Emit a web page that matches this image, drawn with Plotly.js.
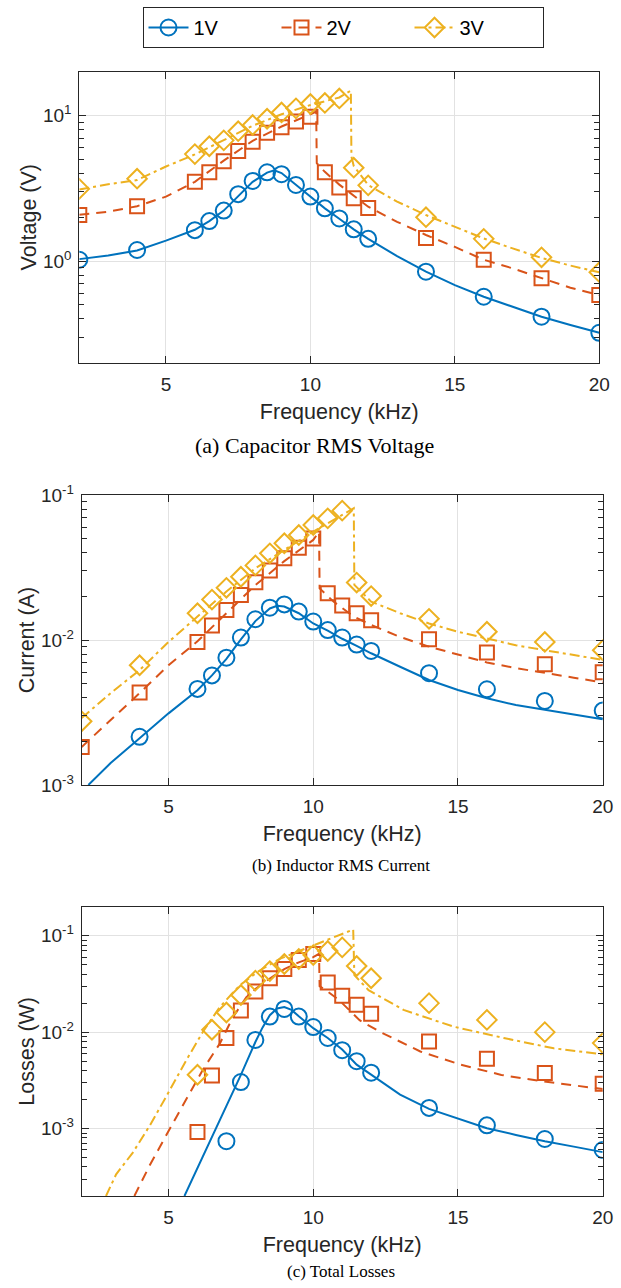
<!DOCTYPE html>
<html>
<head>
<meta charset="utf-8">
<script src="https://cdn.plot.ly/plotly-3.0.1.min.js"></script>
<style>
  html, body { margin: 0; padding: 0; background: #ffffff; }
  #chart { width: 621px; height: 1288px; }
</style>
</head>
<body>
<div id="chart"></div>
<script>
// ---------- data ----------
const seriesNames = ['1V', '2V', '3V'];
const freqMeas = [2, 4, 6, 6.5, 7, 7.5, 8, 8.5, 9, 9.5, 10, 10.5, 11, 11.5, 12, 14, 16, 18, 20];

// (a) capacitor RMS voltage, measured (V)
const v1Meas = [1.02, 1.19, 1.63, 1.88, 2.22, 2.88, 3.55, 4.07, 3.95, 3.33, 2.77, 2.30, 1.96, 1.65, 1.42, 0.844, 0.568, 0.414, 0.321];
const v2Meas = [2.07, 2.38, 3.51, 4.07, 4.85, 5.7, 6.6, 7.6, 8.3, 9.1, 9.8, 4.07, 3.2, 2.7, 2.31, 1.44, 1.02, 0.76, 0.584];
const v3Meas = [3.13, 3.68, 5.43, 6.15, 6.75, 7.8, 8.6, 9.5, 10.5, 11.2, 12.0, 12.2, 13.1, 4.38, 3.31, 2.0, 1.42, 1.06, 0.838];
// (a) model curves
const v1LineF = [2, 3, 4, 5, 6, 6.5, 7, 7.5, 8, 8.5, 8.75, 9, 9.5, 10, 10.5, 11, 11.5, 12, 13, 14, 15, 16, 17, 18, 19, 20];
const v1Line = [1.03, 1.09, 1.18, 1.38, 1.64, 1.88, 2.22, 2.8, 3.5, 4.05, 4.2, 4.02, 3.35, 2.78, 2.3, 1.95, 1.65, 1.42, 1.08, 0.845, 0.683, 0.568, 0.485, 0.414, 0.363, 0.321];
const v2LineF = [2, 3, 4, 5, 6, 7, 8, 9, 10, 10.2, 10.22, 10.5, 11, 11.5, 12, 13, 14, 15, 16, 17, 18, 19, 20];
const v2Line = [2.08, 2.18, 2.38, 2.77, 3.5, 4.9, 6.7, 8.4, 10.2, 10.65, 4.7, 4.1, 3.35, 2.8, 2.36, 1.86, 1.51, 1.25, 1.02, 0.89, 0.76, 0.655, 0.584];
const v3LineF = [2, 3, 4, 5, 6, 7, 8, 9, 10, 11, 11.4, 11.42, 11.5, 12, 13, 14, 15, 16, 17, 18, 19, 20];
const v3Line = [3.1, 3.37, 3.6, 4.46, 5.4, 6.8, 8.5, 10.2, 11.8, 13.3, 14.8, 5.22, 4.5, 3.33, 2.56, 2.07, 1.72, 1.43, 1.22, 1.05, 0.93, 0.836];

// (b) inductor RMS current, measured (A)
const i1Meas = [null, 0.00215, 0.0046, 0.0057, 0.00755, 0.0104, 0.0139, 0.0167, 0.0176, 0.0157, 0.0134, 0.0117, 0.0104, 0.0093, 0.0084, 0.0059, 0.00457, 0.0038, 0.00326];
const i2Meas = [0.00183, 0.00435, 0.0097, 0.0126, 0.0161, 0.0204, 0.025, 0.0302, 0.0366, 0.0432, 0.0502, 0.021, 0.0173, 0.0153, 0.0137, 0.0101, 0.0082, 0.0068, 0.006];
const i3Meas = [0.00275, 0.0067, 0.0153, 0.019, 0.0229, 0.0273, 0.0327, 0.0396, 0.0465, 0.053, 0.0621, 0.069, 0.078, 0.0249, 0.0201, 0.014, 0.0114, 0.0097, 0.0085];
// (b) model curves
const i1LineF = [2.23, 3, 4, 5, 6, 6.5, 7, 7.5, 8, 8.5, 8.75, 9, 9.5, 10, 10.5, 11, 11.5, 12, 13, 14, 15, 16, 17, 18, 19, 20];
const i1Line = [0.001, 0.00142, 0.0021, 0.00312, 0.0045, 0.0057, 0.0074, 0.0101, 0.0135, 0.0165, 0.0172, 0.017, 0.0153, 0.013, 0.0116, 0.0102, 0.0091, 0.0081, 0.00654, 0.0053, 0.00452, 0.00396, 0.00356, 0.00329, 0.00304, 0.00284];
const i2LineF = [2, 3, 4, 5, 6, 7, 8, 9, 10, 10.2, 10.22, 10.7, 11.4, 12, 13, 14, 15, 16, 17, 18, 19, 20];
const i2Line = [0.00183, 0.0028, 0.0043, 0.0067, 0.0098, 0.0153, 0.0239, 0.035, 0.049, 0.0558, 0.0227, 0.0184, 0.0145, 0.0127, 0.0105, 0.009, 0.0079, 0.007, 0.0064, 0.0059, 0.0055, 0.0051];
const i3LineF = [2, 3, 4, 5, 6, 7, 8, 9, 10, 11, 11.4, 11.42, 12, 13, 14, 15, 16, 17, 18, 19, 20];
const i3Line = [0.0029, 0.0043, 0.0062, 0.0097, 0.0145, 0.0216, 0.0312, 0.0418, 0.0559, 0.0728, 0.081, 0.024, 0.0184, 0.0153, 0.013, 0.0114, 0.0102, 0.0092, 0.0085, 0.0079, 0.0073];

// (c) total losses, measured (W)
const p1Meas = [null, null, null, null, 0.00074, 0.00304, 0.0083, 0.0145, 0.0174, 0.0145, 0.0113, 0.0087, 0.0065, 0.005, 0.0038, 0.00164, 0.00108, 0.00078, 0.0006];
const p2Meas = [null, null, 0.00092, 0.00356, 0.0087, 0.0168, 0.0264, 0.0362, 0.0452, 0.056, 0.0646, 0.0327, 0.0238, 0.0192, 0.0155, 0.008, 0.0053, 0.00377, 0.00292];
const p3Meas = [null, null, 0.00362, 0.0106, 0.016, 0.0243, 0.0342, 0.043, 0.0509, 0.0574, 0.063, 0.0694, 0.0757, 0.0485, 0.0362, 0.02, 0.0134, 0.01, 0.0077];
// (c) model curves
const p1LineF = [5.55, 6, 6.5, 7, 7.5, 8, 8.25, 8.5, 8.75, 9, 9.25, 9.5, 10, 10.5, 11, 11.5, 12, 13, 14, 15, 16, 17, 18, 19, 20];
const p1Line = [0.0002, 0.00039, 0.00081, 0.0017, 0.0036, 0.0079, 0.0112, 0.015, 0.0176, 0.0182, 0.017, 0.0146, 0.011, 0.0087, 0.0066, 0.0046, 0.0036, 0.00225, 0.0016, 0.00127, 0.00101, 0.00086, 0.00074, 0.00065, 0.00057];
const p2LineF = [3.82, 4.34, 5.03, 5.61, 6.19, 6.77, 7.23, 7.69, 8, 8.5, 9, 9.5, 10, 10.2, 10.22, 10.45, 10.9, 11.6, 12.3, 13.7, 15.1, 16.5, 17.9, 20];
const p2Line = [0.0002, 0.00041, 0.00098, 0.002, 0.0041, 0.0076, 0.0144, 0.023, 0.028, 0.036, 0.045, 0.053, 0.060, 0.065, 0.03, 0.027, 0.0214, 0.0133, 0.0101, 0.0063, 0.0046, 0.0036, 0.0031, 0.00257];
const p3LineF = [2.84, 3.19, 3.76, 4.34, 4.92, 5.61, 6.19, 6.77, 7.46, 8.15, 8.84, 9.54, 10.23, 10.92, 11.38, 11.42, 11.91, 13.12, 14.85, 16.58, 18.31, 20];
const p3Line = [0.0002, 0.000336, 0.00056, 0.00106, 0.00215, 0.0051, 0.0101, 0.0182, 0.0306, 0.0436, 0.0575, 0.070, 0.085, 0.1016, 0.116, 0.039, 0.0273, 0.017, 0.0114, 0.0087, 0.0068, 0.0059];

// axis labels / ticks
const xTickVals = [5, 10, 15, 20];
const panelYTitles = ['Voltage (V)', 'Current (A)', 'Losses (W)'];
const panelXTitle = 'Frequency (kHz)';
const panelCaptions = ['(a) Capacitor RMS Voltage', '(b) Inductor RMS Current', '(c) Total Losses'];
const yTickVals1 = [1, 10];
const yTickText1 = ['10<sup>0</sup>', '10<sup>1</sup>'];
const yTickVals2 = [0.001, 0.01, 0.1];
const yTickText2 = ['10<sup>-3</sup>', '10<sup>-2</sup>', '10<sup>-1</sup>'];
const yTickVals3 = [0.001, 0.01, 0.1];
const yTickText3 = ['10<sup>-3</sup>', '10<sup>-2</sup>', '10<sup>-1</sup>'];

// ---------- styling ----------
const colors = ['#0072BD', '#D95319', '#EDB120'];
const dashes = ['solid', '10px,7px', '10px,4px,3px,4px'];
const symbols = ['circle-open', 'square-open', 'diamond-open'];
const msizes = [16, 14, 15];
const AX = '#262626';
const FONT = 'Liberation Sans, Arial, sans-serif';
const SERIF = 'Liberation Serif, Times New Roman, serif';

function minorVals(lo, hi) {
  const out = [];
  for (let e = -5; e <= 2; e++) {
    for (let m = 2; m <= 9; m++) {
      const v = m * Math.pow(10, e);
      if (v >= lo * 0.999 && v <= hi * 1.001) out.push(v);
    }
  }
  return out;
}

const traces = [];
const panels = [
  { ax: ['x', 'y'], lineF: [v1LineF, v2LineF, v3LineF], line: [v1Line, v2Line, v3Line], meas: [v1Meas, v2Meas, v3Meas] },
  { ax: ['x2', 'y2'], lineF: [i1LineF, i2LineF, i3LineF], line: [i1Line, i2Line, i3Line], meas: [i1Meas, i2Meas, i3Meas] },
  { ax: ['x3', 'y3'], lineF: [p1LineF, p2LineF, p3LineF], line: [p1Line, p2Line, p3Line], meas: [p1Meas, p2Meas, p3Meas] }
];
panels.forEach(p => {
  for (let s = 0; s < 3; s++) {
    traces.push({
      x: p.lineF[s], y: p.line[s], xaxis: p.ax[0], yaxis: p.ax[1],
      mode: 'lines', showlegend: false, hoverinfo: 'skip',
      line: { color: colors[s], width: 2, dash: dashes[s] }
    });
    traces.push({
      x: freqMeas, y: p.meas[s], xaxis: p.ax[0], yaxis: p.ax[1],
      mode: 'markers', showlegend: false,
      marker: { symbol: symbols[s], size: msizes[s], color: colors[s], line: { color: colors[s], width: 2 } }
    });
  }
});
// legend entries (line + marker)
for (let s = 0; s < 3; s++) {
  traces.push({
    x: [null], y: [null], xaxis: 'x', yaxis: 'y', name: seriesNames[s],
    mode: 'lines+markers', showlegend: true,
    line: { color: colors[s], width: 2, dash: dashes[s] },
    marker: { symbol: symbols[s], size: msizes[s], color: colors[s], line: { color: colors[s], width: 2 } }
  });
}

function xAxis(domain, anchor) {
  return {
    domain: domain, anchor: anchor, range: [2, 20],
    tickmode: 'array', tickvals: xTickVals,
    ticks: 'inside', ticklen: 7, tickwidth: 1, tickcolor: AX, ticklabelstandoff: 4,
    showline: true, linecolor: AX, linewidth: 1, mirror: 'allticks',
    showgrid: true, gridcolor: '#e2e2e2', gridwidth: 1, zeroline: false,
    tickfont: { family: FONT, size: 19, color: AX },
    title: { text: panelXTitle, font: { family: FONT, size: 21.5, color: AX }, standoff: 10 }
  };
}
function yAxis(domain, anchor, range, tv, tt, lo, hi, title) {
  return {
    domain: domain, anchor: anchor, type: 'log', range: range,
    tickmode: 'array', tickvals: tv, ticktext: tt,
    ticks: 'inside', ticklen: 7, tickwidth: 1, tickcolor: AX, ticklabelstandoff: 3,
    minor: { tickmode: 'array', tickvals: minorVals(lo, hi), ticks: 'inside', ticklen: 5, tickcolor: AX, showgrid: false },
    showline: true, linecolor: AX, linewidth: 1, mirror: 'allticks',
    showgrid: true, gridcolor: '#e2e2e2', gridwidth: 1, zeroline: false,
    tickfont: { family: FONT, size: 19, color: AX },
    title: { text: title, font: { family: FONT, size: 21.5, color: AX }, standoff: 0 }
  };
}

const W = 621, H = 1288;
const d1x = [79.3 / W, 599.3 / W];
const d23x = [81.7 / W, 602.7 / W];
const layout = {
  width: W, height: H,
  margin: { l: 0, r: 0, t: 0, b: 0 },
  paper_bgcolor: '#ffffff', plot_bgcolor: '#ffffff',
  font: { family: FONT, color: AX },
  showlegend: true,
  legend: {
    orientation: 'h', x: 343 / W, xanchor: 'center', y: 1 - 7 / H, yanchor: 'top',
    bordercolor: AX, borderwidth: 1, bgcolor: '#ffffff',
    font: { family: FONT, size: 20, color: '#000000' },
    itemwidth: 40, entrywidth: 78, entrywidthmode: 'pixels'
  },
  xaxis: xAxis(d1x, 'y'),
  yaxis: yAxis([1 - 362.7 / H, 1 - 71.7 / H], 'x', [Math.log10(0.2), Math.log10(20)], yTickVals1, yTickText1, 0.2, 20, panelYTitles[0]),
  xaxis2: xAxis(d23x, 'y2'),
  yaxis2: yAxis([1 - 785 / H, 1 - 495 / H], 'x2', [-3, -1], yTickVals2, yTickText2, 0.001, 0.1, panelYTitles[1]),
  xaxis3: xAxis(d23x, 'y3'),
  yaxis3: yAxis([1 - 1196 / H, 1 - 906.7 / H], 'x3', [Math.log10(2e-4), Math.log10(0.2)], yTickVals3, yTickText3, 2e-4, 0.2, panelYTitles[2]),
  annotations: [
    { text: panelCaptions[0], xref: 'paper', yref: 'paper', x: 314 / W, y: 1 - 445 / H, xanchor: 'center', yanchor: 'middle', showarrow: false, font: { family: SERIF, size: 22, color: '#000000' } },
    { text: panelCaptions[1], xref: 'paper', yref: 'paper', x: 341 / W, y: 1 - 865 / H, xanchor: 'center', yanchor: 'middle', showarrow: false, font: { family: SERIF, size: 17, color: '#000000' } },
    { text: panelCaptions[2], xref: 'paper', yref: 'paper', x: 341 / W, y: 1 - 1271 / H, xanchor: 'center', yanchor: 'middle', showarrow: false, font: { family: SERIF, size: 17, color: '#000000' } }
  ]
};

Plotly.newPlot('chart', traces, layout, { staticPlot: true, displayModeBar: false });
</script>
</body>
</html>
